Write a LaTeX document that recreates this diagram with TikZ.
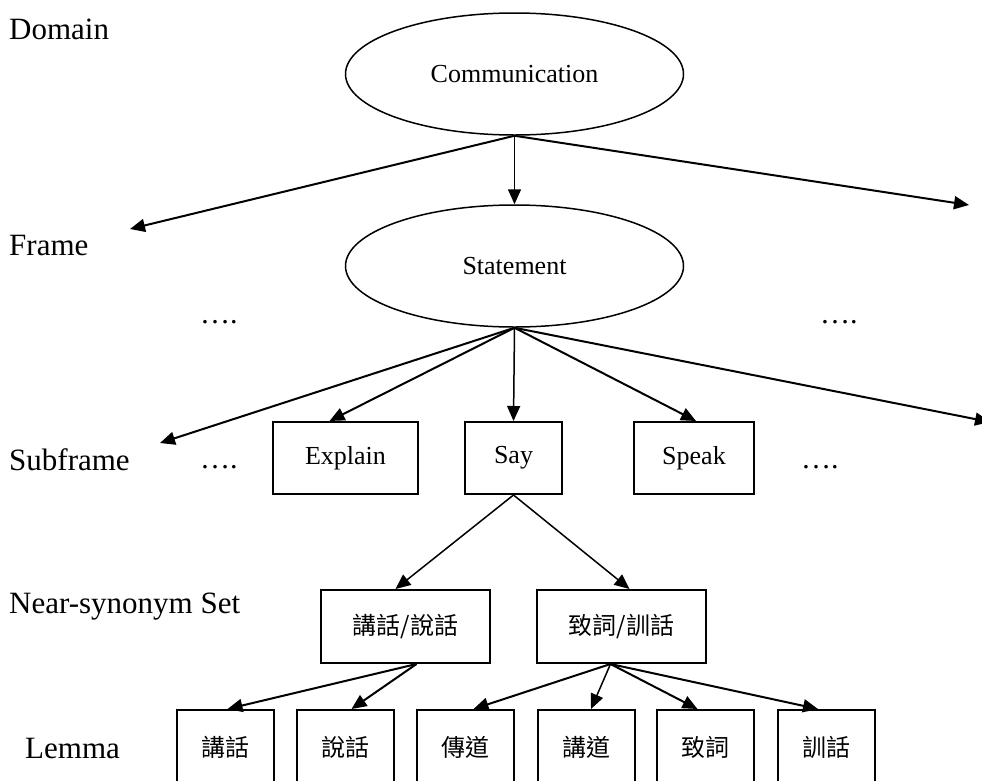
\documentclass[tikz,border=0pt]{standalone}
\usepackage{fontspec}
\setmainfont{Liberation Serif}
\newfontfamily\cjk{Noto Sans CJK TC}
\usetikzlibrary{arrows.meta,shapes.geometric,calc}
\begin{document}
\begin{tikzpicture}[x=1pt,y=-1pt,
  ell/.style={draw,ellipse,line width=1.5pt,minimum width=338pt,minimum height=122pt,inner sep=0pt,font=\fontsize{26}{30}\selectfont},
  box/.style={draw,rectangle,line width=2pt,inner sep=0pt,font=\fontsize{26}{30}\selectfont},
  cbox/.style={box,font=\cjk\fontsize{24}{28}\selectfont},
  lbl/.style={anchor=base west,inner sep=0pt,font=\fontsize{31}{36}\selectfont},
  dotlbl/.style={anchor=base west,inner sep=0pt,font=\fontsize{30}{34}\selectfont},
  arr/.style={line width=2pt,-{Triangle[length=15pt,width=13pt]}},
  tarr/.style={line width=1.5pt,-{Triangle[length=15pt,width=13pt]}}
]
\useasboundingbox (0,0) rectangle (982,780);
\clip (0,0) rectangle (982,780);

% level labels
\node[lbl] (dom) at (9,39) {Domain};
\node[lbl] (frm) at (9,255) {Frame};
\node[lbl] (sub) at (9,470) {Subframe};
\node[lbl] (nss) at (9,613) {Near-synonym Set};
\node[lbl] (lem) at (25,758) {Lemma};

% ellipses
\node[ell] (comm) at (514.5,74) {Communication};
\node[ell] (stmt) at (514.5,266) {Statement};

% dots
\node[dotlbl] (d1) at (200,323) {….};
\node[dotlbl] (d2) at (820,323) {….};
\node[dotlbl] (d3) at (200,468) {….};
\node[dotlbl] (d4) at (801,468) {….};

% subframes
\node[box,minimum width=145pt,minimum height=72pt] (explain) at (345.5,458) {Explain};
\node[box,minimum width=97pt,minimum height=72pt] (say) at (513.5,458) {Say};
\node[box,minimum width=120pt,minimum height=72pt] (speak) at (694,458) {Speak};

% near-synonym sets
\node[cbox,minimum width=169pt,minimum height=73pt] (n1) at (405.5,626.5) {講話/說話};
\node[cbox,minimum width=169pt,minimum height=73pt] (n2) at (621.5,626.5) {致詞/訓話};

% lemmas
\node[cbox,minimum width=97pt,minimum height=74pt] (l1) at (225.5,747) {講話};
\node[cbox,minimum width=97pt,minimum height=74pt] (l2) at (345.5,747) {說話};
\node[cbox,minimum width=97pt,minimum height=74pt] (l3) at (465.5,747) {傳道};
\node[cbox,minimum width=97pt,minimum height=74pt] (l4) at (586,747) {講道};
\node[cbox,minimum width=97pt,minimum height=74pt] (l5) at (705.5,747) {致詞};
\node[cbox,minimum width=97pt,minimum height=74pt] (l6) at (826,747) {訓話};

% free ends
\coordinate (fl) at (130,229);
\coordinate (fr) at (969,205);
\coordinate (sl) at (160,443);
\coordinate (sr) at (990,422);

% domain -> frames
\draw[tarr] (comm.south) -- (stmt.north);
\draw[arr] (comm.south) -- (fl);
\draw[arr] (comm.south) -- (fr);

% frame -> subframes
\draw[arr] (stmt.south) -- (sl);
\draw[arr] (stmt.south) -- ($(explain.north)+(-16,0)$);
\draw[tarr] (stmt.south) -- (say.north);
\draw[arr] (stmt.south) -- ($(speak.north)+(2,0)$);
\draw[arr] (stmt.south) -- (sr);

% subframe -> sets
\draw[tarr] (say.south) -- ($(n1.north)+(-10,0)$);
\draw[tarr] (say.south) -- ($(n2.north)+(8,0)$);

% sets -> lemmas
\draw[arr] ($(n1.south)+(11,0)$) -- ($(l1.north)+(2,0)$);
\draw[arr] ($(n1.south)+(11,0)$) -- ($(l2.north)+(6,0)$);
\draw[arr] ($(n2.south)+(-11,0)$) -- ($(l3.north)+(8,0)$);
\draw[tarr] ($(n2.south)+(-11,0)$) -- ($(l4.north)+(5,0)$);
\draw[arr] ($(n2.south)+(-11,0)$) -- ($(l5.north)+(-8,0)$);
\draw[arr] ($(n2.south)+(-11,0)$) -- ($(l6.north)+(-8,0)$);
\end{tikzpicture}
\end{document}
